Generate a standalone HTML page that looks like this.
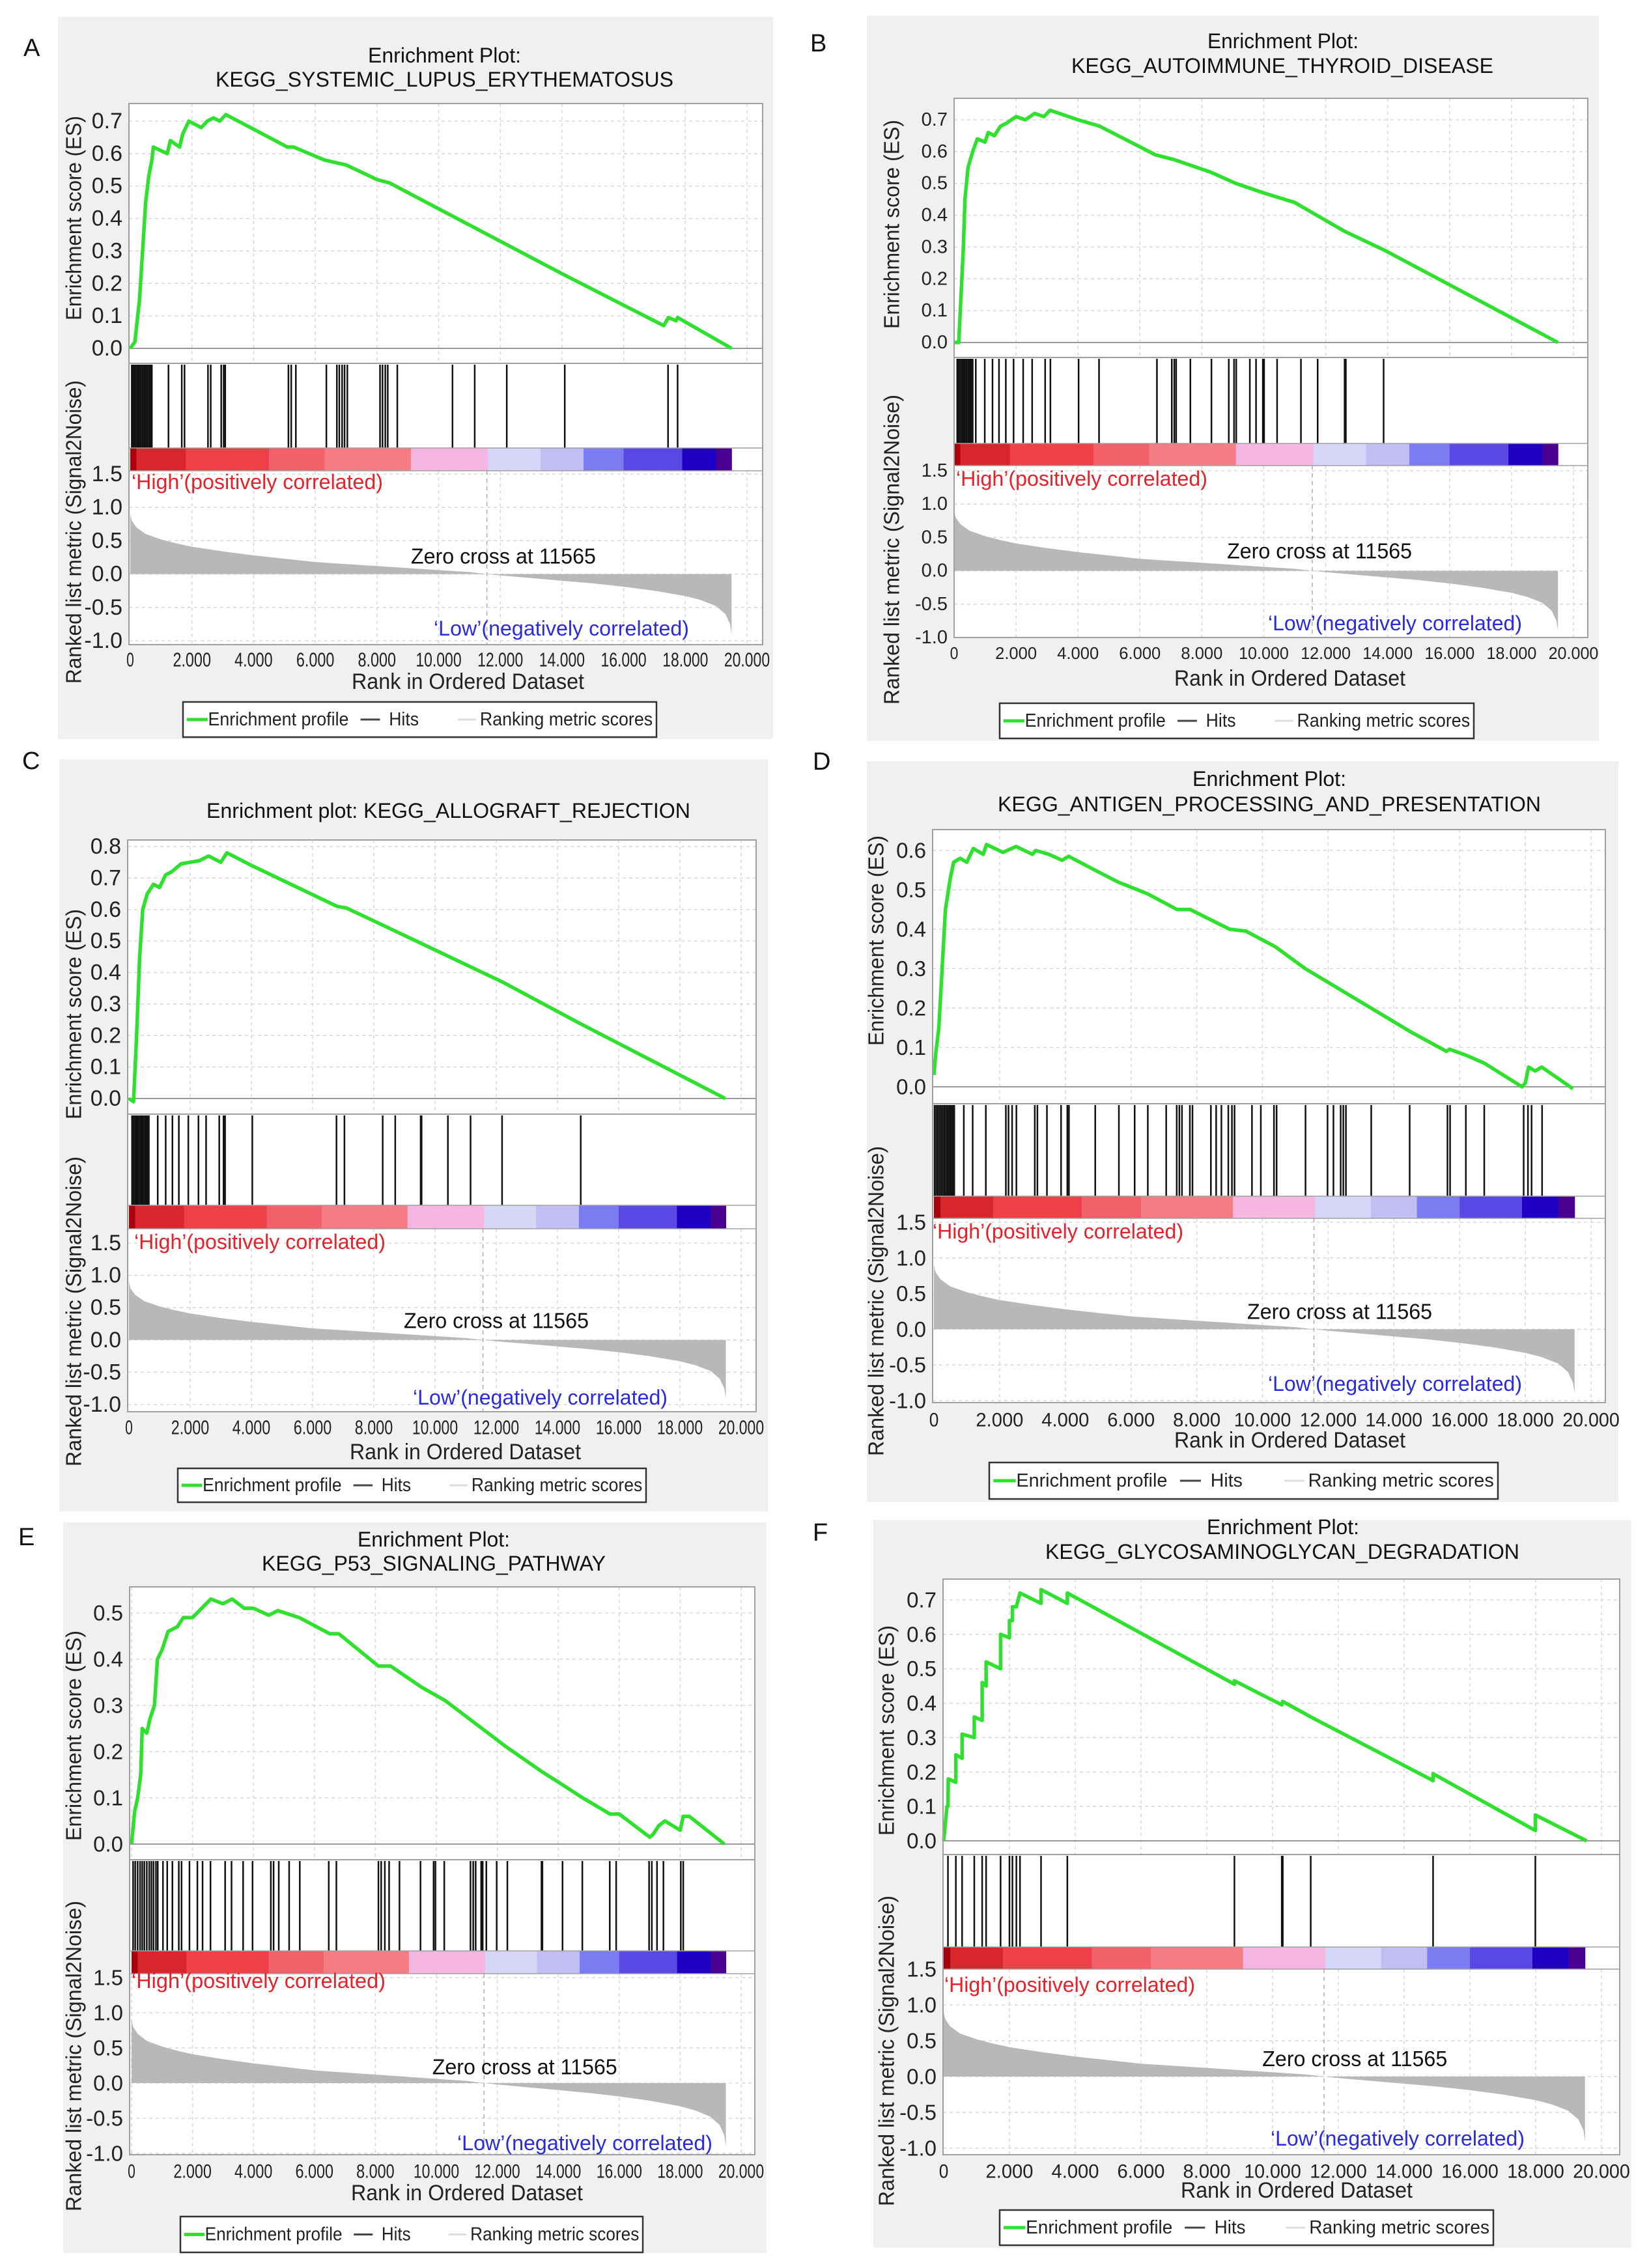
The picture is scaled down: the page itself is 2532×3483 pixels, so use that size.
<!DOCTYPE html>
<html><head><meta charset="utf-8"><style>
html,body{margin:0;padding:0;background:#fff}
svg{display:block}
text{font-family:"Liberation Sans",Arial,sans-serif}
</style></head><body>
<svg id="fig" xmlns="http://www.w3.org/2000/svg" width="2532" height="3483" viewBox="0 0 2532 3483"></svg>
<script>
// ---------- shared data ----------
const xTickRanks=[0,2,4,6,8,10,12,14,16,18,20];
const xTickLabels=["0","2.000","4.000","6.000","8.000","10.000","12.000","14.000","16.000","18.000","20.000"];
const mTickVals=[1.5,1.0,0.5,0.0,-0.5,-1.0];
const mTickLabels=["1.5","1.0","0.5","0.0","-0.5","-1.0"];
const metricRank=[0,0.05,0.2,0.5,1,1.5,2,3,4,5,6,7,8,9,10,11,11.565,12,13,14,15,16,17,18,18.5,19,19.3,19.45,19.5];
const metricVal=[0.9,0.8,0.7,0.6,0.52,0.46,0.41,0.34,0.28,0.23,0.18,0.15,0.12,0.09,0.06,0.03,0,-0.02,-0.06,-0.1,-0.14,-0.19,-0.25,-0.33,-0.39,-0.48,-0.6,-0.75,-0.9];
const cbEnds=[0.2,1.8,4.5,6.3,9.1,11.6,13.3,14.7,16.0,17.9,19.0,19.5];
const cbColors=["#a8000c","#d8262c","#ee4046","#f2606a","#f57c82","#f6b6e2","#d6d6f8","#c2bef4","#7c7cf2","#5a48e4","#1e00c4","#4a0090"];
const zeroCross=11.565;

// ---------- panel A ----------
const esTicksA=[0,0.1,0.2,0.3,0.4,0.5,0.6,0.7];
const esRankA=[0,0.15,0.3,0.4,0.5,0.6,0.7,0.75,1.2,1.3,1.6,1.7,1.9,2.3,2.5,2.7,2.9,3.1,5.1,5.3,6.3,7.0,8.0,8.4,12.0,14.0,17.3,17.45,17.7,17.75,19.5];
const esValA=[0,0.02,0.15,0.3,0.45,0.53,0.58,0.62,0.6,0.64,0.62,0.66,0.7,0.68,0.7,0.71,0.7,0.72,0.62,0.62,0.58,0.565,0.52,0.51,0.33,0.23,0.07,0.095,0.085,0.095,0.0];
const hitsA=[0.05,0.1,0.15,0.2,0.25,0.3,0.35,0.4,0.45,0.5,0.55,0.6,0.65,0.7,1.24,1.67,1.76,2.52,2.61,2.95,3.03,3.08,5.13,5.22,5.37,6.36,6.7,6.78,6.87,6.95,7.04,8.1,8.18,8.27,8.35,8.66,10.45,11.17,12.21,14.09,17.44,17.75];
// ---------- panel B ----------
const esTicksB=[0,0.1,0.2,0.3,0.4,0.5,0.6,0.7];
const esRankB=[0,0.15,0.2,0.3,0.35,0.45,0.6,0.75,1.0,1.1,1.3,1.5,1.7,2.0,2.3,2.6,2.9,3.1,4.0,4.7,6.5,7.1,8.3,9.1,10.0,11.0,12.6,13.9,19.5];
const esValB=[0,0,0.1,0.3,0.45,0.55,0.6,0.64,0.63,0.66,0.65,0.68,0.69,0.71,0.7,0.72,0.71,0.73,0.7,0.68,0.59,0.575,0.535,0.5,0.47,0.44,0.35,0.29,0];
const hitsB=[0.1,0.15,0.2,0.25,0.3,0.35,0.4,0.45,0.5,0.55,0.6,0.7,0.99,1.24,1.45,1.67,1.92,2.23,2.52,2.94,3.11,4.02,4.68,6.55,7.03,7.11,7.17,7.63,8.31,8.87,9.04,9.11,9.55,9.75,9.97,10.01,10.43,11.2,11.74,12.61,12.65,13.87];
// ---------- panel C ----------
const esTicksC=[0,0.1,0.2,0.3,0.4,0.5,0.6,0.7,0.8];
const esRankC=[0,0.15,0.25,0.35,0.45,0.6,0.8,1.0,1.2,1.4,1.7,2.0,2.3,2.6,3.0,3.2,4.0,6.8,7.1,8.3,12.2,14.7,19.48];
const esValC=[0,-0.01,0.2,0.45,0.6,0.65,0.68,0.67,0.71,0.72,0.745,0.75,0.755,0.77,0.75,0.78,0.74,0.61,0.605,0.55,0.37,0.24,0];
const hitsC=[0.1,0.15,0.2,0.25,0.3,0.35,0.4,0.45,0.5,0.55,0.6,0.65,0.94,1.2,1.42,1.63,1.94,2.27,2.52,2.95,3.09,3.14,4.03,6.78,7.04,8.29,8.7,9.53,9.56,10.42,11.16,12.19,14.76];
// ---------- panel D ----------
const esTicksD=[0,0.1,0.2,0.3,0.4,0.5,0.6];
const esRankD=[0,0.05,0.15,0.25,0.35,0.5,0.6,0.8,1.0,1.2,1.5,1.6,2.1,2.5,3.0,3.1,3.5,3.9,4.1,4.9,5.6,6.5,7.4,7.8,9.0,9.5,10.4,11.3,12.4,13.3,14.5,15.6,15.7,16.2,16.75,17.9,18.0,18.1,18.3,18.5,19.45];
const esValD=[0.03,0.08,0.15,0.3,0.45,0.53,0.57,0.58,0.57,0.605,0.59,0.615,0.595,0.61,0.59,0.6,0.59,0.575,0.585,0.55,0.52,0.49,0.45,0.45,0.4,0.395,0.355,0.3,0.245,0.2,0.14,0.09,0.095,0.08,0.06,0,0.01,0.05,0.04,0.05,-0.005];
const hitsD=[0.02,0.07,0.12,0.17,0.22,0.27,0.32,0.37,0.42,0.47,0.52,0.57,0.62,0.91,1.18,1.58,2.19,2.27,2.38,2.51,3.07,3.15,3.44,3.87,4.06,4.11,4.91,5.63,6.11,6.51,7.07,7.39,7.47,7.55,7.79,7.87,8.43,8.59,8.75,8.96,9.07,9.15,9.68,9.95,10.35,10.43,11.31,11.98,12.16,12.38,12.46,12.54,13.31,14.48,15.63,15.71,16.19,16.75,17.95,18.08,18.19,18.51];
// ---------- panel E ----------
const esTicksE=[0,0.1,0.2,0.3,0.4,0.5];
const esRankE=[0,0.1,0.2,0.3,0.35,0.5,0.6,0.75,0.85,1.0,1.2,1.5,1.7,2.0,2.3,2.6,3.0,3.3,3.7,4.0,4.5,4.8,5.5,6.5,6.8,8.1,8.5,9.5,10.3,12.3,13.5,14.1,14.8,15.7,16.0,17.0,17.1,17.3,17.5,18.0,18.1,18.3,19.45];
const esValE=[0,0.07,0.1,0.15,0.25,0.24,0.27,0.3,0.4,0.42,0.46,0.47,0.49,0.49,0.51,0.53,0.52,0.53,0.51,0.51,0.495,0.505,0.49,0.455,0.455,0.385,0.385,0.34,0.31,0.21,0.155,0.13,0.1,0.065,0.065,0.015,0.02,0.04,0.05,0.03,0.06,0.06,0];
const hitsE=[0.05,0.12,0.2,0.28,0.35,0.42,0.5,0.58,0.65,0.72,0.8,0.86,1.03,1.17,1.34,1.55,1.64,1.9,2.16,2.33,2.59,3.07,3.28,3.66,3.97,4.57,4.66,4.83,5.17,5.52,6.47,6.72,8.1,8.19,8.31,8.45,8.79,9.48,9.91,9.97,10.26,11.12,11.21,11.29,11.47,11.52,11.64,11.98,12.33,13.45,13.48,14.14,14.79,15.69,15.9,16.98,17.07,17.24,17.45,18.02,18.1];
// ---------- panel F ----------
const esTicksF=[0,0.1,0.2,0.3,0.4,0.5,0.6,0.7];
const esRankF=[0,0.1,0.13,0.14,0.37,0.37,0.56,0.56,0.93,0.93,1.17,1.17,1.29,1.29,1.73,1.73,2.0,2.0,2.09,2.09,2.21,2.32,2.96,2.96,3.76,3.76,8.84,8.84,10.28,10.31,11.16,14.88,14.88,17.99,17.99,19.55];
const esValF=[0,0.1,0.1,0.18,0.17,0.25,0.24,0.31,0.3,0.36,0.35,0.46,0.45,0.52,0.5,0.6,0.59,0.64,0.64,0.68,0.68,0.72,0.69,0.73,0.69,0.72,0.455,0.465,0.395,0.405,0.36,0.175,0.195,0.03,0.075,0];
const hitsF=[0.13,0.37,0.56,0.93,1.17,1.29,1.73,2.0,2.09,2.21,2.32,2.96,3.76,8.84,10.28,10.31,11.16,14.88,17.99];

// ---------- layout (pixel geometry) ----------
const panels=[
 {id:'a',letter:'A',lx:36,ly:74,bg:[89,26,1098,1109],L:198,R:1171,x0:200,x20:1147,esTop:159,esBot:558,es0:535,esTopY:186,cbTop:688,cbBot:723,mBot:990,m15:728,mm1:984,tickY:1013,rankY:1047,rankX:[540,897],lg:[281,1078,727,54],title:['Enrichment Plot:','KEGG_SYSTEMIC_LUPUS_ERYTHEMATOSUS'],titleY:[85,122],titleX:[[565,800],[331,1034]],yLabX:113,esLab:[178,492],rkLab:[584,1050],high:[202,588,740],low:[666,1058,965],zc:[12.1,0.27],fs:34,tw:11.7,serif:false,ticks:esTicksA,er:esRankA,ev:esValA,hits:hitsA},
 {id:'b',letter:'B',lx:1244,ly:67,bg:[1331,24,1124,1114],L:1465,R:2438,x0:1465,x20:2416,esTop:151,esBot:549,es0:526,esTopY:184,cbTop:681,cbBot:715,mBot:979,m15:723,mm1:979,tickY:1003,rankY:1042,rankX:[1803,2158],lg:[1535,1080,728,54],title:['Enrichment Plot:','KEGG_AUTOIMMUNE_THYROID_DISEASE'],titleY:[63,101],titleX:[[1854,2086],[1645,2293]],yLabX:1369,esLab:[184,505],rkLab:[606,1082],high:[1468,1854,735],low:[1947,2337,957],zc:[11.8,0.3],fs:29,tw:12.8,serif:true,ticks:esTicksB,er:esRankB,ev:esValB,hits:hitsB},
 {id:'c',letter:'C',lx:34,ly:1169,bg:[91,1166,1088,1155],L:196,R:1161,x0:198,x20:1138,esTop:1290,esBot:1711,es0:1687,esTopY:1300,cbTop:1851,cbBot:1887,mBot:2168,m15:1909,mm1:2157,tickY:2192,rankY:2230,rankX:[537,892],lg:[273,2255,719,52],title:['Enrichment plot: KEGG_ALLOGRAFT_REJECTION'],titleY:[1245],titleX:[[317,1060]],yLabX:113,esLab:[1396,1719],rkLab:[1776,2252],high:[206,592,1907],low:[634,1025,2146],zc:[12.0,0.3],fs:34,tw:11.7,serif:false,ticks:esTicksC,er:esRankC,ev:esValC,hits:hitsC},
 {id:'d',letter:'D',lx:1248,ly:1170,bg:[1331,1169,1154,1138],L:1432,R:2465,x0:1434,x20:2443,esTop:1274,esBot:1695,es0:1669,esTopY:1306,cbTop:1837,cbBot:1871,mBot:2154,m15:1877,mm1:2151,tickY:2181,rankY:2212,rankX:[1803,2158],lg:[1519,2246,781,56],title:['Enrichment Plot:','KEGG_ANTIGEN_PROCESSING_AND_PRESENTATION'],titleY:[1196,1235],titleX:[[1831,2067],[1532,2366]],yLabX:1345,esLab:[1283,1606],rkLab:[1760,2236],high:[1432,1817,1891],low:[1947,2337,2125],zc:[12.35,0.25],fs:33,tw:14.6,serif:false,ticks:esTicksD,er:esRankD,ev:esValD,hits:hitsD},
 {id:'e',letter:'E',lx:28,ly:2361,bg:[97,2338,1080,1122],L:199,R:1159,x0:202,x20:1138,esTop:2437,esBot:2856,es0:2832,esTopY:2477,cbTop:2996,cbBot:3031,mBot:3309,m15:3037,mm1:3307,tickY:3335,rankY:3368,rankX:[539,895],lg:[277,3404,710,55],title:['Enrichment Plot:','KEGG_P53_SIGNALING_PATHWAY'],titleY:[2364,2401],titleX:[[549,783],[402,930]],yLabX:113,esLab:[2504,2827],rkLab:[2919,3396],high:[202,592,3042],low:[702,1094,3291],zc:[12.9,0.23],fs:33,tw:11.7,serif:false,ticks:esTicksE,er:esRankE,ev:esValE,hits:hitsE},
 {id:'f',letter:'F',lx:1248,ly:2354,bg:[1341,2334,1164,1118],L:1448,R:2487,x0:1449,x20:2459,esTop:2425,esBot:2848,es0:2827,esTopY:2457,cbTop:2990,cbBot:3024,mBot:3309,m15:3024,mm1:3299,tickY:3335,rankY:3364,rankX:[1813,2169],lg:[1535,3394,758,54],title:['Enrichment Plot:','KEGG_GLYCOSAMINOGLYCAN_DEGRADATION'],titleY:[2345,2383],titleX:[[1853,2087],[1605,2333]],yLabX:1361,esLab:[2496,2819],rkLab:[2911,3388],high:[1450,1835,3048],low:[1951,2341,3284],zc:[12.5,0.25],fs:33,tw:14.6,serif:false,ticks:esTicksF,er:esRankF,ev:esValF,hits:hitsF}
];

const NS='http://www.w3.org/2000/svg';
const svg=document.getElementById('fig');
function mk(tag,attrs,parent){const e=document.createElementNS(NS,tag);for(const k in attrs)e.setAttribute(k,attrs[k]);(parent||svg).appendChild(e);return e;}
function txt(s,attrs,parent){const e=mk('text',attrs,parent);e.textContent=s;return e;}

panels.forEach(p=>{
  const g=mk('g',{});
  
  
  const xS=r=>p.x0+r/20*(p.x20-p.x0);
  const esMax=p.ticks[p.ticks.length-1];
  const esY=v=>p.es0-v*(p.es0-p.esTopY)/esMax;
  const mY=v=>p.m15+(1.5-v)*(p.mm1-p.m15)/2.5;
  const fs=p.fs;
  const bg=mk('rect',{x:p.bg[0],y:p.bg[1],width:p.bg[2],height:p.bg[3],fill:'#f0f0f0'},g);
  
  
  const lt=txt(p.letter,{x:p.lx,y:p.ly,'font-size':38,'dominant-baseline':'central',fill:'#111'},g);
  
  
  p.title.forEach((t,i)=>{
    const x1=p.titleX[i][0],x2=p.titleX[i][1];
    const te=txt(t,{x:x1,y:p.titleY[i],'font-size':32,'dominant-baseline':'central',textLength:x2-x1,lengthAdjust:'spacingAndGlyphs',fill:'#111'},g);
    
    
  });
  mk('rect',{x:p.L,y:p.esTop,width:p.R-p.L,height:p.mBot-p.esTop,fill:'#fff'},g);
  const grid=mk('g',{stroke:'#d8d8d8','stroke-width':1.5,'stroke-dasharray':'5,5'},g);
  
  
  xTickRanks.forEach(r=>{const x=xS(r);if(x>p.L+2&&x<p.R-1){mk('line',{x1:x,y1:p.esTop,x2:x,y2:p.esBot},grid);mk('line',{x1:x,y1:p.cbBot,x2:x,y2:p.mBot},grid);}});
  p.ticks.forEach(v=>mk('line',{x1:p.L,y1:esY(v),x2:p.R,y2:esY(v)},grid));
  mTickVals.forEach(v=>mk('line',{x1:p.L,y1:mY(v),x2:p.R,y2:mY(v)},grid));
  mk('line',{x1:p.L,y1:esY(0),x2:p.R,y2:esY(0),stroke:'#999','stroke-width':2},g);
  const hg=mk('g',{stroke:'#111','stroke-width':2.5},g);
  
  
  p.hits.forEach(h=>{
    const l=mk('line',{x1:xS(h),y1:p.esBot+2,x2:xS(h),y2:p.cbTop},hg);
    
    
  });
  const cg=mk('g',{},g);
  
  
  let prev=0;
  cbEnds.forEach((e,i)=>{
    const r=mk('rect',{x:xS(prev),y:p.cbTop,width:xS(e)-xS(prev)+0.5,height:p.cbBot-p.cbTop,fill:cbColors[i]},cg);
    
    
    prev=e;
  });
  let pts=[[xS(metricRank[0]),mY(0)]];
  metricRank.forEach((r,i)=>pts.push([xS(r),mY(metricVal[i])]));
  pts.push([xS(metricRank[metricRank.length-1]),mY(0)]);
  const ma=mk('polygon',{points:pts.map(q=>q.join(',')).join(' '),fill:'#b8b8b8'},g);
  
  
  mk('line',{x1:xS(zeroCross),y1:p.cbBot,x2:xS(zeroCross),y2:p.mBot,stroke:'#aaa','stroke-width':1.5,'stroke-dasharray':'6,6'},g);
  const ep=mk('polyline',{points:p.er.map((r,i)=>xS(r)+','+esY(p.ev[i])).join(' '),fill:'none',stroke:'#2fe02f','stroke-width':5.5,'stroke-linejoin':'round'},g);
  
  
  const bs={fill:'none',stroke:'#a0a0a0','stroke-width':2};
  mk('rect',Object.assign({x:p.L,y:p.esTop,width:p.R-p.L,height:p.mBot-p.esTop},bs),g);
  mk('line',{x1:p.L,y1:p.esBot,x2:p.R,y2:p.esBot,stroke:'#a0a0a0','stroke-width':2},g);
  mk('line',{x1:p.L,y1:p.cbTop,x2:p.R,y2:p.cbTop,stroke:'#a0a0a0','stroke-width':1.5},g);
  mk('line',{x1:p.L,y1:p.cbBot,x2:p.R,y2:p.cbBot,stroke:'#a0a0a0','stroke-width':1.5},g);
  p.ticks.forEach(v=>{
    const t=txt(v.toFixed(1),{x:p.L-10,y:esY(v),'font-size':fs,'text-anchor':'end','dominant-baseline':'central',fill:'#222'},g);
    
    
  });
  mTickVals.forEach((v,i)=>{
    const t=txt(mTickLabels[i],{x:p.L-10,y:mY(v),'font-size':fs,'text-anchor':'end','dominant-baseline':'central',fill:'#222'},g);
    
    
  });
  xTickRanks.forEach((r,i)=>{
    const lab=xTickLabels[i];
    const t=txt(lab,{x:xS(r),y:p.tickY,'font-size':fs-3,'text-anchor':'middle','dominant-baseline':'central',textLength:lab.length*p.tw,lengthAdjust:'spacingAndGlyphs',fill:'#222'},g);
    
    
  });
  const ey=(p.esLab[0]+p.esLab[1])/2;
  const et=txt('Enrichment score (ES)',{x:p.yLabX,y:ey,'font-size':33,'text-anchor':'middle','dominant-baseline':'central',textLength:p.esLab[1]-p.esLab[0],lengthAdjust:'spacingAndGlyphs',transform:`rotate(-90 ${p.yLabX} ${ey})`,fill:'#222'},g);
  
  
  const ry=(p.rkLab[0]+p.rkLab[1])/2;
  const rt=txt('Ranked list metric (Signal2Noise)',{x:p.yLabX,y:ry,'font-size':33,'text-anchor':'middle','dominant-baseline':'central',textLength:p.rkLab[1]-p.rkLab[0],lengthAdjust:'spacingAndGlyphs',transform:`rotate(-90 ${p.yLabX} ${ry})`,fill:'#222'},g);
  
  
  const xt=txt('Rank in Ordered Dataset',{x:p.rankX[0],y:p.rankY,'font-size':34,'dominant-baseline':'central',textLength:p.rankX[1]-p.rankX[0],lengthAdjust:'spacingAndGlyphs',fill:'#222'},g);
  
  
  const hi=txt("\u2018High\u2019(positively correlated)",{x:p.high[0],y:p.high[2],'font-size':32,'dominant-baseline':'central',textLength:p.high[1]-p.high[0],lengthAdjust:'spacingAndGlyphs',fill:'#e8202a'},g);
  
  
  const lo=txt("\u2018Low\u2019(negatively correlated)",{x:p.low[0],y:p.low[2],'font-size':32,'dominant-baseline':'central',textLength:p.low[1]-p.low[0],lengthAdjust:'spacingAndGlyphs',fill:'#2a2ae0'},g);
  
  
  const zc=txt('Zero cross at 11565',{x:xS(p.zc[0]),y:mY(p.zc[1]),'font-size':33,'text-anchor':'middle','dominant-baseline':'central',textLength:284,lengthAdjust:'spacingAndGlyphs',fill:'#111'},g);
  
  
  const [lx,ly,lw,lh]=p.lg;
  const lgG=mk('g',{},g);
  
  
  mk('rect',{x:lx,y:ly,width:lw,height:lh,fill:'#fff',stroke:'#333','stroke-width':2.5},lgG);
  const fx=f=>lx+f*lw, cy=ly+lh/2;
  const ff=p.serif?'"Liberation Serif",serif':'"Liberation Sans",sans-serif';
  mk('line',{x1:fx(0.008),y1:cy,x2:fx(0.052),y2:cy,stroke:'#2fe02f','stroke-width':5},lgG);
  const l1=txt('Enrichment profile',{x:fx(0.053),y:cy,'font-size':29,'font-family':ff,'dominant-baseline':'central',textLength:lw*0.297,lengthAdjust:'spacingAndGlyphs',fill:'#222'},lgG);
  
  
  mk('line',{x1:fx(0.375),y1:cy,x2:fx(0.416),y2:cy,stroke:'#444','stroke-width':3},lgG);
  const l2=txt('Hits',{x:fx(0.435),y:cy,'font-size':29,'font-family':ff,'dominant-baseline':'central',textLength:lw*0.063,lengthAdjust:'spacingAndGlyphs',fill:'#222'},lgG);
  
  
  mk('line',{x1:fx(0.58),y1:cy,x2:fx(0.619),y2:cy,stroke:'#ddd','stroke-width':3},lgG);
  const l3=txt('Ranking metric scores',{x:fx(0.627),y:cy,'font-size':29,'font-family':ff,'dominant-baseline':'central',textLength:lw*0.365,lengthAdjust:'spacingAndGlyphs',fill:'#222'},lgG);
  
  
});
</script>
</body></html>
